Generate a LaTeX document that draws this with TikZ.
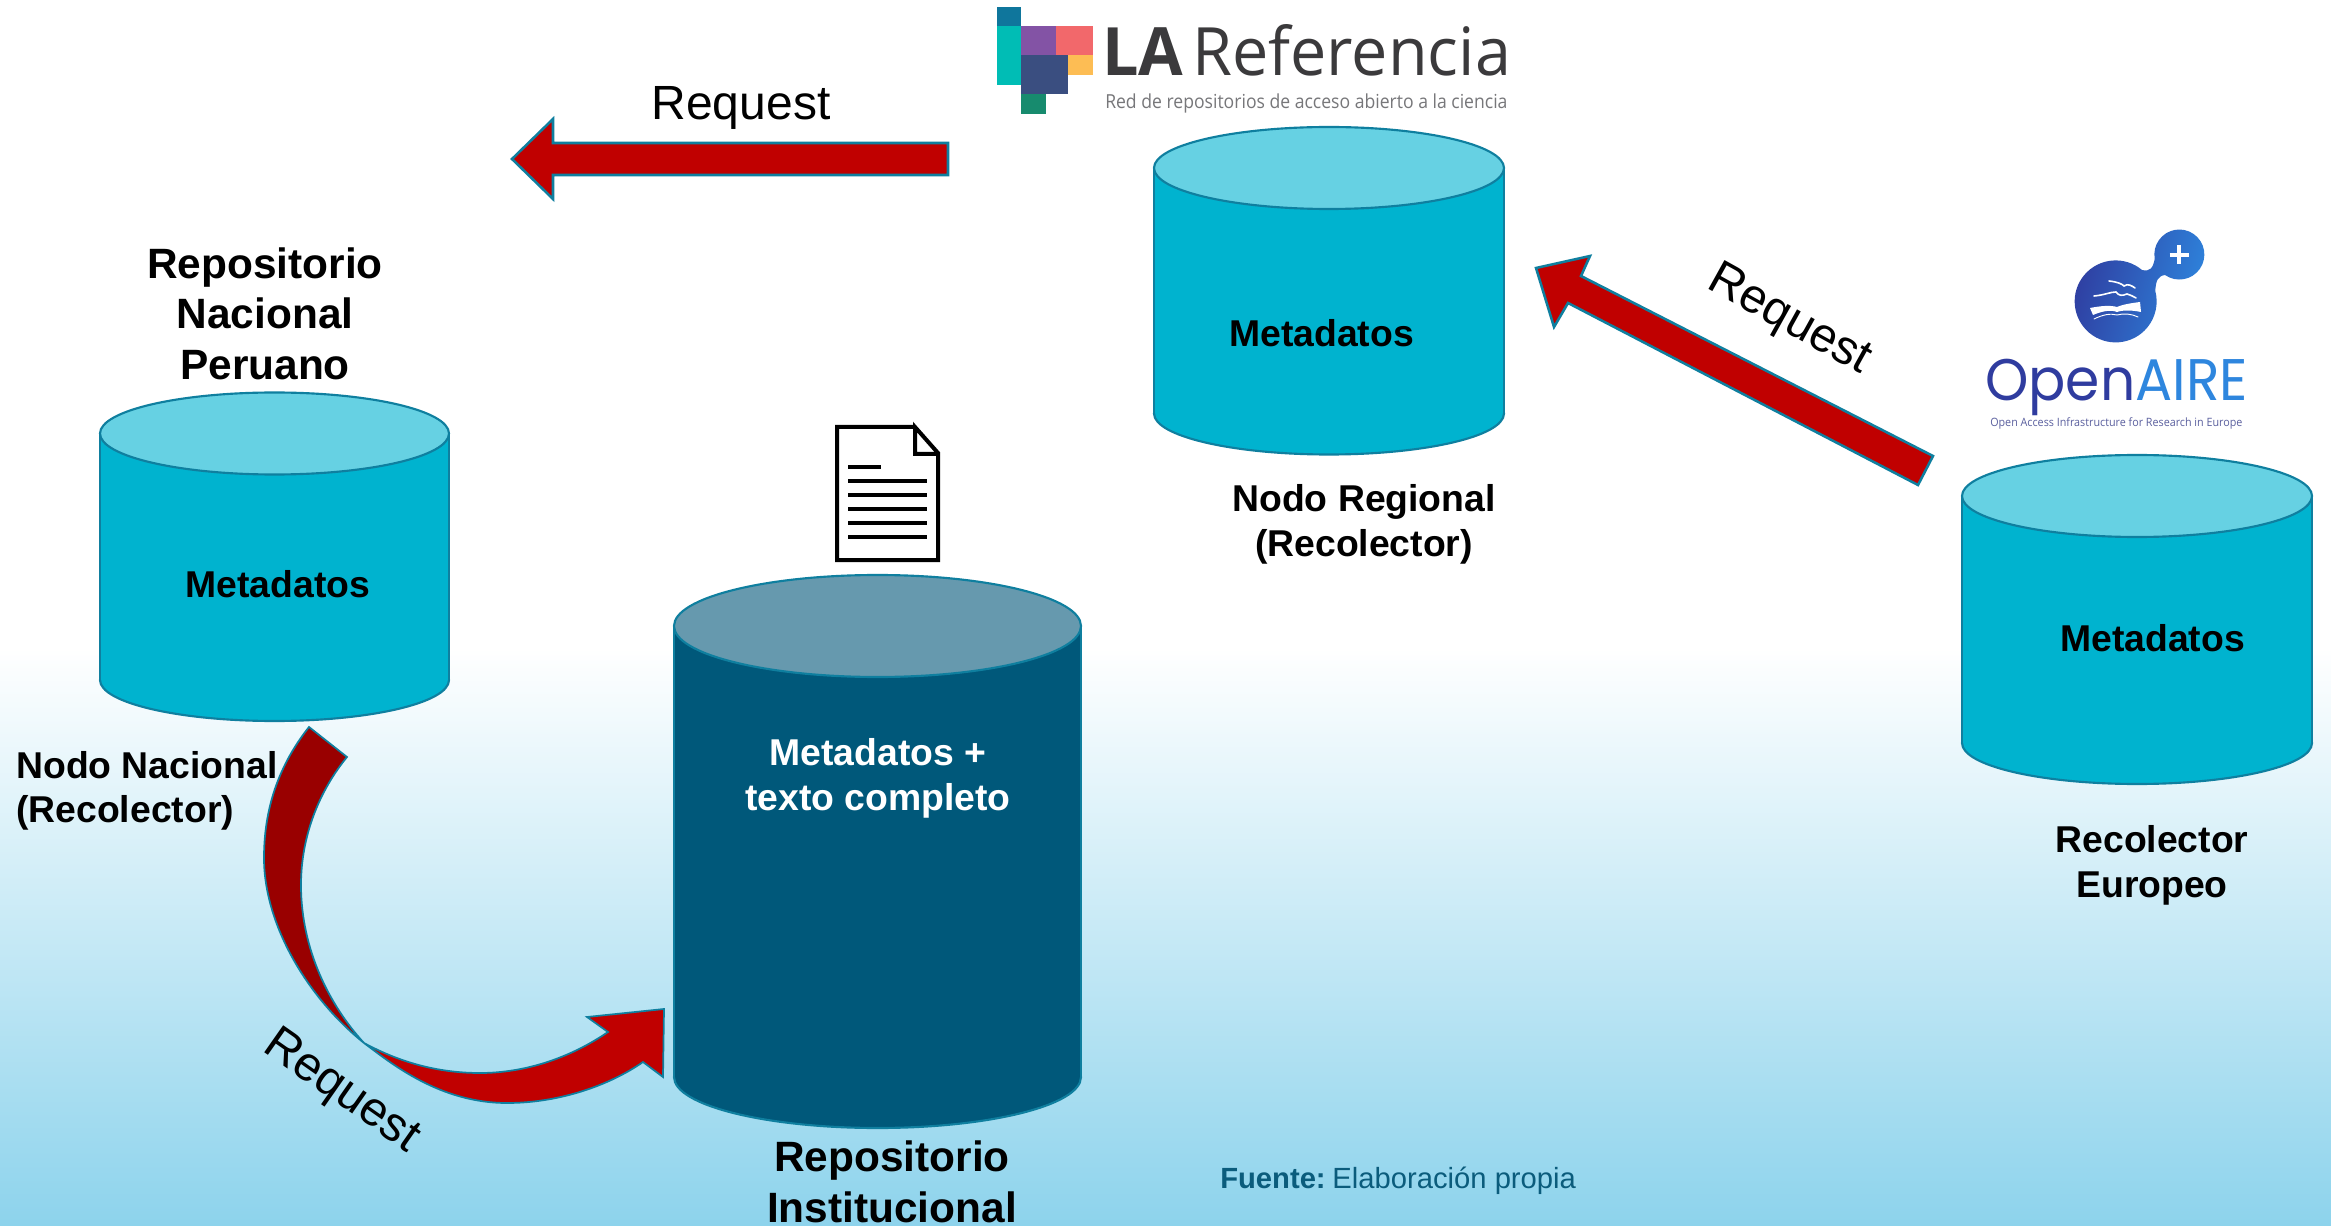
\documentclass[tikz,border=0pt]{standalone}
\usepackage{fontspec}
\setmainfont{Liberation Sans}
\newfontfamily\logofont{Open Sans}
\newfontfamily\airefont{Poppins}
\definecolor{cylbody}{HTML}{00B3CF}
\definecolor{cyltop}{HTML}{66D1E3}
\definecolor{cyledge}{HTML}{0F7F9F}
\definecolor{instbody}{HTML}{00587A}
\definecolor{insttop}{HTML}{6699AE}
\definecolor{redlight}{HTML}{C00000}
\definecolor{reddark}{HTML}{990000}
\definecolor{bgblue}{HTML}{8DD3EC}
\definecolor{fuentec}{HTML}{0B5C7C}
\definecolor{laink}{HTML}{3B3A3C}
\definecolor{laink2}{HTML}{77777A}
\definecolor{aired}{HTML}{2F3C9F}
\definecolor{airel}{HTML}{2E86DE}
\definecolor{aires}{HTML}{5A5F9E}
\definecolor{b1}{HTML}{0F769C}\definecolor{b2}{HTML}{00BDB5}\definecolor{b3}{HTML}{8353A5}
\definecolor{b4}{HTML}{F2686B}\definecolor{b5}{HTML}{FDBD54}\definecolor{b6}{HTML}{3A4E80}\definecolor{b7}{HTML}{178B6E}
\tikzset{
  x=0.75pt,y=-0.75pt,
  boldlabel/.style={font=\fontsize{28pt}{33.5pt}\selectfont\bfseries,align=center,text=black,inner sep=0pt},
  biglabel/.style={font=\fontsize{31.8pt}{37.8pt}\selectfont\bfseries,align=center,text=black,inner sep=0pt},
  reqlabel/.style={font=\fontsize{36pt}{40pt}\selectfont,text=black,inner sep=0pt},
  blockarrow/.style={fill=redlight,draw=cyledge,line width=1.9pt,line join=miter},
  whiteink/.style={draw=white,line width=1.2pt,line cap=round,fill=none},
  doc/.style={draw=black,line width=3pt,line cap=butt}
}
% left, right, top ellipse centre y, bottom ellipse centre y, radius y, body, top
\newcommand{\drumshape}[7]{%
  \pgfmathsetmacro{\cxx}{(#1+#2)/2}%
  \pgfmathsetmacro{\rxx}{(#2-#1)/2}%
  \draw[fill=#6,draw=cyledge,line width=1.6pt] (\cxx,#4) ellipse [x radius=\rxx,y radius=#5];
  \fill[#6] (#1,#3) rectangle (#2,#4);
  \draw[cyledge,line width=1.6pt] (#1,#3) -- (#1,#4) (#2,#3) -- (#2,#4);
  \draw[fill=#7,draw=cyledge,line width=1.6pt] (\cxx,#3) ellipse [x radius=\rxx,y radius=#5];
}
\begin{document}
\begin{tikzpicture}
\useasboundingbox (0,0) rectangle (2331,1226);
\fill[white] (0,0) rectangle (2331,1226);
\shade[top color=white,bottom color=bgblue] (0,648) rectangle (2331,1226);

% LA Referencia logo
\fill[b1] (997,7) rectangle (1021,26);
\fill[b2] (997,26) rectangle (1021,85);
\fill[b3] (1021,26) rectangle (1056,55);
\fill[b4] (1056,26) rectangle (1093,55);
\fill[b5] (1068,55) rectangle (1093,75);
\fill[b6] (1021,55) rectangle (1068,94);
\fill[b7] (1021,94) rectangle (1046,114);
\node[anchor=base west,inner sep=0pt,text=laink,xscale=0.97] (lalogo) at (1102,76) {\logofont\fontsize{50pt}{50pt}\selectfont\textbf{LA}\kern-6pt\ Referencia};
\node[anchor=base west,inner sep=0pt,text=laink2,xscale=0.91] (lasub) at (1105,109) {\logofont\fontsize{14.5pt}{15pt}\selectfont Red de repositorios de acceso abierto a la ciencia};

% OpenAIRE logo
\shade[left color=aired,right color=airel,shading angle=75]
  (2142,270) arc[start angle=50,end angle=375,radius=30.75pt]
  .. controls (2156,280) and (2158,276) .. (2165,275)
  arc[start angle=235,end angle=550,radius=18.75pt]
  .. controls (2153,268) and (2150,272) .. (2142,270) -- cycle;
\draw[white,line width=2.4pt] (2179,245.5) -- (2179,264.5) (2169.5,255) -- (2188.5,255);
\draw[whiteink] (2109,281) .. controls (2118,282) and (2122,284) .. (2124,286) .. controls (2128,283) and (2132,286) .. (2135,288);
\draw[whiteink] (2094,296) .. controls (2105,295) and (2110,292) .. (2116,292) .. controls (2119,296) and (2122,296) .. (2127,294) .. controls (2130,295) and (2133,296) .. (2136,298);
\fill[white] (2090,308) .. controls (2100,306) and (2110,305) .. (2117,307) .. controls (2124,304) and (2133,303) .. (2140,302) -- (2141,312) .. controls (2132,310) and (2122,310) .. (2117,312) .. controls (2110,309) and (2100,312) .. (2093,315) -- cycle;
\draw[whiteink,line width=.7pt] (2094,319) .. controls (2102,315) and (2110,313) .. (2117,315) .. controls (2124,313) and (2132,314) .. (2138,317);
\node[anchor=base west,inner sep=0pt,xscale=0.94] (airelogo) at (1985,401) {\airefont\fontsize{44pt}{44pt}\selectfont\color{aired}Open\color{airel}AIRE};
\node[anchor=base west,inner sep=0pt,text=aires,xscale=0.938] (airesub) at (1990,426.5) {\logofont\fontsize{8.6pt}{9pt}\selectfont Open Access Infrastructure for Research in Europe};

% Cylinders
\drumshape{100}{449}{433.5}{680}{41}{cylbody}{cyltop}
\drumshape{1154}{1504}{168}{413.5}{41}{cylbody}{cyltop}
\drumshape{1962}{2312}{496}{743}{41}{cylbody}{cyltop}
\drumshape{674}{1081}{626}{1077}{51}{instbody}{insttop}

% Document icon
\draw[doc,line join=miter] (915,427) -- (837,427) -- (837,560) -- (938,560) -- (938,453) -- (915,427) -- (915,454) -- (938,454);
\foreach \yy in {481,495,509,523,537} \draw[doc] (848,\yy) -- (927,\yy);
\draw[doc] (848,467) -- (881,467);

% Block arrows
\draw[blockarrow] (512,159) -- (553,119) -- (553,143) -- (948,143) -- (948,175) -- (553,175) -- (553,199) -- cycle;
\draw[blockarrow] (1536,268) -- (1590,256) -- (1581,276) -- (1933,456) -- (1918,485) -- (1568,303) -- (1554,327) -- cycle;
\draw[blockarrow,fill=reddark,line width=1.3pt] (309,727) .. controls (275,770) and (264,815) .. (264,858) .. controls (264,925) and (308,998) .. (364,1043) .. controls (330,1006) and (301,950) .. (301,885) .. controls (301,835) and (320,790) .. (347,757) -- cycle;
\draw[blockarrow,line width=1.3pt] (364,1043) .. controls (392,1064) and (440,1103) .. (507,1103) .. controls (560,1103) and (610,1085) .. (643,1062) -- (663,1077) -- (664,1009) -- (587,1017) -- (608,1032) .. controls (570,1058) and (525,1073) .. (480,1073) .. controls (430,1073) and (392,1058) .. (364,1043) -- cycle;

% Labels
\node[biglabel] (repnac) at (265,313.5) {Repositorio\\Nacional\\Peruano};
\node[boldlabel] (m1) at (278,584) {Metadatos};
\node[boldlabel] (m2) at (1321.5,333) {Metadatos};
\node[boldlabel] (m3) at (2152.5,638.5) {Metadatos};
\node[boldlabel,text=white] (m4) at (878,778.5) {Metadatos +\\texto completo};
\node[boldlabel,align=left,anchor=west] (nodonac) at (16,791) {Nodo Nacional\\(Recolector)};
\node[boldlabel] (nodoreg) at (1364,524.5) {Nodo Regional\\(Recolector)};
\node[boldlabel] (receu) at (2152,865.5) {Recolector\\Europeo};
\node[biglabel] (repinst) at (892,1182) {Repositorio\\Institucional};
\node[reqlabel] (r1) at (741,108) {Request};
\node[reqlabel,rotate=-29] (r2) at (1789,321) {Request};
\node[reqlabel,rotate=-35] (r3) at (341,1092) {Request};
\node[anchor=west,inner sep=0pt,text=fuentec,font=\fontsize{21.9pt}{26pt}\selectfont] (fuente) at (1220,1181) {\textbf{Fuente:}\kern-1pt\ Elaboración propia};
\end{tikzpicture}
\end{document}
